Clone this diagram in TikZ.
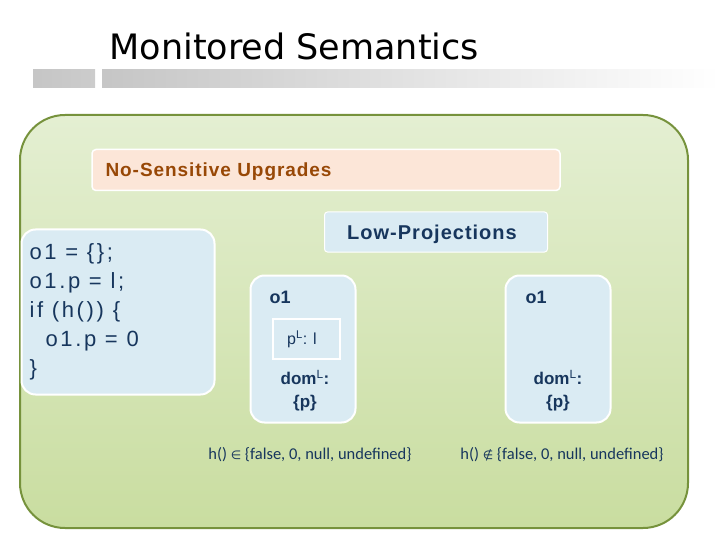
\documentclass[tikz,border=0pt]{standalone}
\usepackage{fontspec}
\setmainfont{Liberation Sans}
\newfontfamily\cali{Carlito}
\newfontfamily\symf{DejaVu Sans}
\newfontfamily\spaced[LetterSpace=12]{Liberation Sans}
\newfontfamily\spacedb[LetterSpace=5]{Liberation Sans Bold}
\definecolor{frame}{HTML}{76923C}
\definecolor{greenA}{HTML}{E4EFD2}
\definecolor{greenB}{HTML}{C9DDA0}
\definecolor{peach}{HTML}{FCE6D8}
\definecolor{brownT}{HTML}{984806}
\definecolor{paleblue}{HTML}{DAEBF3}
\definecolor{navy}{HTML}{17365D}
\tikzset{
  panel/.style={fill=paleblue,draw=white,line width=2pt,rounded corners=14pt},
  objbox/.style={panel,minimum width=105pt,minimum height=147pt},
  lbl/.style={text=navy,font=\bfseries\fontsize{18}{20}\selectfont},
  cond/.style={text=navy,font=\cali\fontsize{16.5}{18}\selectfont}
}
\begin{document}
\begin{tikzpicture}[x=1pt,y=-1pt]
\useasboundingbox (0,0) rectangle (720,540);
% title and bar
\node[anchor=base west,font=\fontspec{DejaVu Sans}\fontsize{35}{38}\selectfont] (title) at (106,60) {Monitored Semantics};
\shade[left color=gray!45,right color=gray!40] (33,70) rectangle (95,88);
\shade[left color=gray!45,right color=white] (102,70) rectangle (720,88);
% frame
\shade[draw=frame,line width=2pt,rounded corners=45pt,top color=greenA,bottom color=greenB] (20,115) rectangle (688,528);
\node[draw=white,line width=1.5pt,fill=peach,rounded corners=4pt,minimum width=468pt,minimum height=41pt] (nsu) at (326,170) {};
\node[anchor=west,text=brownT,font=\spacedb\fontsize{19}{21}\selectfont] (nsut) at (102,172) {No-Sensitive Upgrades};
% code
\node[panel,minimum width=193pt,minimum height=165pt] (code) at (118,312) {};
\node[anchor=north west,align=left,text=navy,font=\spaced\fontsize{22}{29}\selectfont] (prog) at (26,240)
  {o1 = \{\};\\o1.p = l;\\if (h()) \{\\\hspace*{16pt}o1.p = 0\\\}};
% low projections
\node[fill=paleblue,draw=white,line width=1pt,rounded corners=3pt,minimum width=223pt,minimum height=40pt] (lp) at (436,232) {};
\node[text=navy,font=\spacedb\fontsize{20}{22}\selectfont] (lpt) at (432,234) {Low-Projections};
% objects
\node[objbox] (objA) at (303,349) {};
\node[objbox] (objB) at (558,349) {};
\node[lbl,anchor=west] (nameA) at (266,297) {o1};
\node[lbl,anchor=west] (nameB) at (522,297) {o1};
\node[draw=white,line width=2pt,minimum width=67pt,minimum height=40pt] (pl) at (306,339) {};
\node[text=navy,font=\fontsize{16}{18}\selectfont] (plt) at (302,339) {p$^{\mathrm{L}}$: l};
\node[lbl,align=center,font=\bfseries\fontsize{17}{23}\selectfont] (domA) at (305,391) {dom$^{\mathrm{L}}$:\\\{p\}};
\node[lbl,align=center,font=\bfseries\fontsize{17}{23}\selectfont] (domB) at (558,391) {dom$^{\mathrm{L}}$:\\\{p\}};
% conditions
\node[cond] (condA) at (310,455) {h() {\symf\fontsize{12}{13}\selectfont∈} \{false, 0, null, undefined\}};
\node[cond] (condB) at (562,455) {h() {\symf\fontsize{12}{13}\selectfont∉} \{false, 0, null, undefined\}};
\end{tikzpicture}
\end{document}
